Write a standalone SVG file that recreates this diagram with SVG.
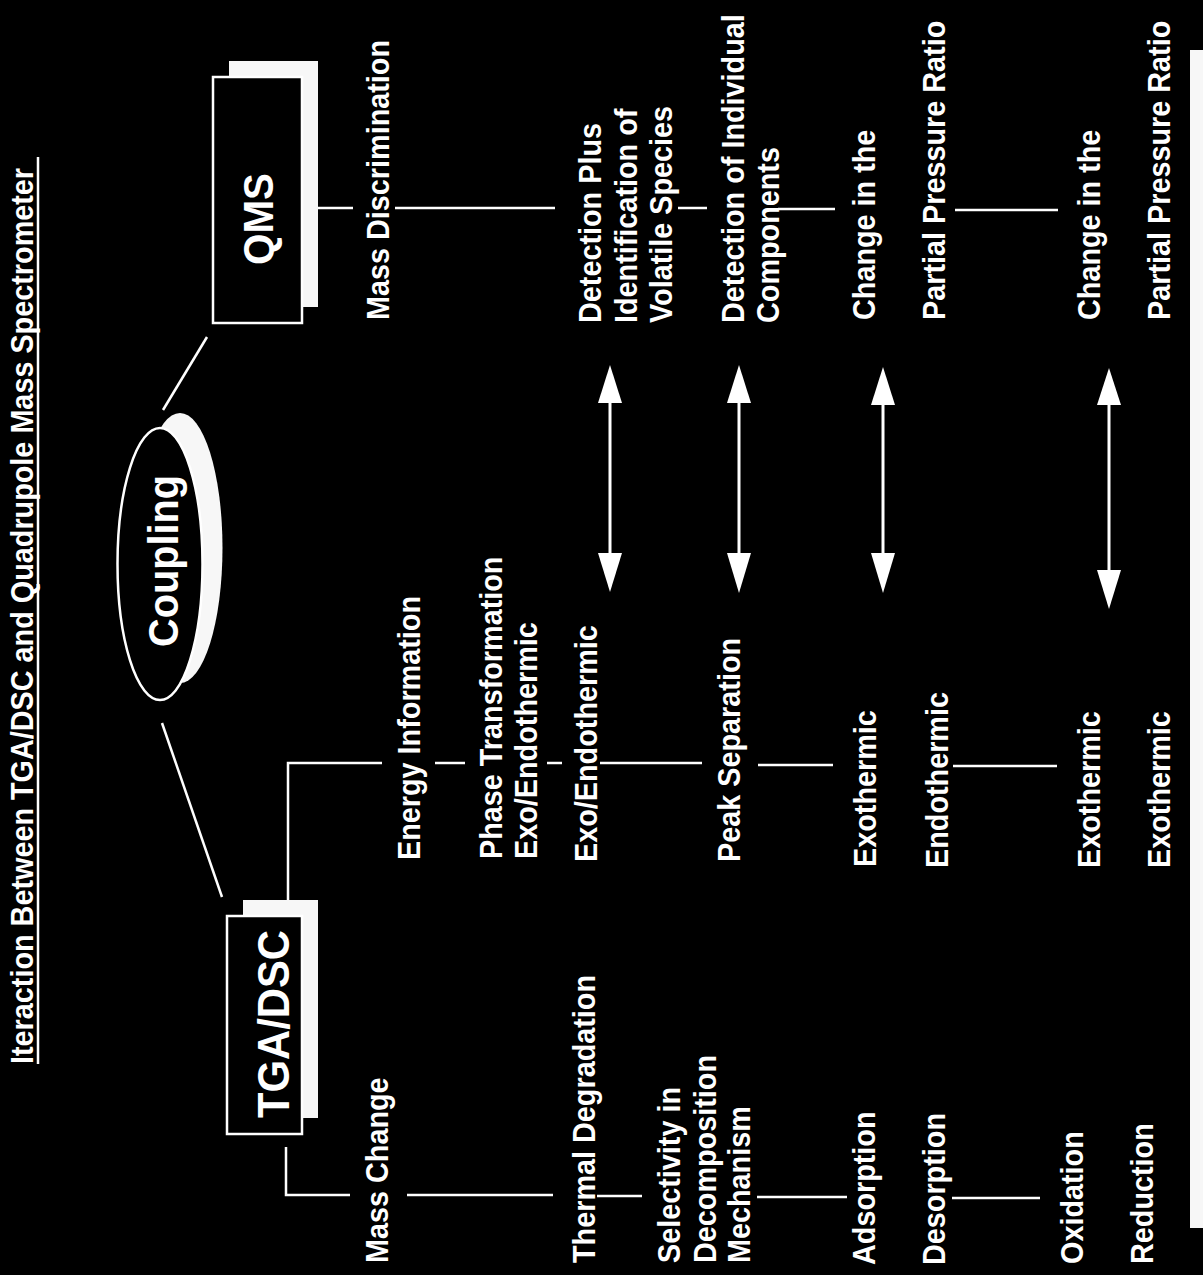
<svg xmlns="http://www.w3.org/2000/svg" width="1203" height="1275" viewBox="0 0 1203 1275">
<style>
.t{font-family:"Liberation Sans",Arial,sans-serif;font-weight:bold;font-size:32px;fill:#fff}
.b{font-family:"Liberation Sans",Arial,sans-serif;font-weight:bold;fill:#fff}
.c{stroke:#fff;stroke-width:2.5;fill:none}
.a{stroke:#fff;stroke-width:3;fill:none}
.h{fill:#fff}
</style>
<rect x="0" y="0" width="1203" height="1275" fill="#000"/>
<rect x="1190" y="50" width="13" height="1178" fill="#f7f7f7"/>

<g id="title">
<text class="t" transform="translate(33,1064) rotate(-90) scale(0.9,1)">Iteraction Between TGA/DSC and Quadrupole Mass Spectrometer</text>
<line x1="38" y1="157" x2="38" y2="1064" stroke="#fff" stroke-width="2.5"/>
</g>

<g id="coupling">
<ellipse cx="180" cy="548" rx="42.5" ry="135" fill="#f7f7f7"/>
<ellipse cx="160" cy="564" rx="42.5" ry="136" fill="#000" stroke="#fff" stroke-width="2.5"/>
<text class="b" font-size="42" text-anchor="middle" transform="translate(178,561) rotate(-90) scale(0.945,1)">Coupling</text>
</g>

<g id="qms">
<rect x="229" y="61" width="89" height="246" fill="#f7f7f7"/>
<rect x="213" y="77" width="89" height="246" fill="#000" stroke="#fff" stroke-width="2.5"/>
<text class="b" font-size="42" text-anchor="middle" transform="translate(273,219) rotate(-90) scale(0.96,1)">QMS</text>
</g>

<g id="tgadsc">
<rect x="243" y="900" width="75" height="218" fill="#f7f7f7"/>
<rect x="227" y="916" width="75" height="218" fill="#000" stroke="#fff" stroke-width="2.5"/>
<text class="b" font-size="44" text-anchor="middle" transform="translate(289,1024) rotate(-90) scale(0.95,1)">TGA/DSC</text>
</g>

<g id="tga-column">
<text class="t" transform="translate(388,1263) rotate(-90) scale(0.9,1)">Mass Change</text>
<text class="t" transform="translate(595,1263) rotate(-90) scale(0.9,1)">Thermal Degradation</text>
<text class="t" transform="translate(680,1263) rotate(-90) scale(0.9,1)">Selectivity in</text>
<text class="t" transform="translate(716,1263) rotate(-90) scale(0.9,1)">Decomposition</text>
<text class="t" transform="translate(750,1263) rotate(-90) scale(0.9,1)">Mechanism</text>
<text class="t" transform="translate(875,1265) rotate(-90) scale(0.9,1)">Adsorption</text>
<text class="t" transform="translate(945,1265) rotate(-90) scale(0.9,1)">Desorption</text>
<text class="t" transform="translate(1083,1264) rotate(-90) scale(0.9,1)">Oxidation</text>
<text class="t" transform="translate(1153,1264) rotate(-90) scale(0.9,1)">Reduction</text>
</g>

<g id="dsc-column">
<text class="t" transform="translate(420,860) rotate(-90) scale(0.9,1)">Energy Information</text>
<text class="t" transform="translate(502,859) rotate(-90) scale(0.9,1)">Phase Transformation</text>
<text class="t" transform="translate(537,859) rotate(-90) scale(0.9,1)">Exo/Endothermic</text>
<text class="t" transform="translate(597,862) rotate(-90) scale(0.9,1)">Exo/Endothermic</text>
<text class="t" transform="translate(740,862) rotate(-90) scale(0.9,1)">Peak Separation</text>
<text class="t" transform="translate(876,867) rotate(-90) scale(0.9,1)">Exothermic</text>
<text class="t" transform="translate(948,868) rotate(-90) scale(0.9,1)">Endothermic</text>
<text class="t" transform="translate(1100,868) rotate(-90) scale(0.9,1)">Exothermic</text>
<text class="t" transform="translate(1170,868) rotate(-90) scale(0.9,1)">Exothermic</text>
</g>

<g id="qms-column">
<text class="t" transform="translate(389,320) rotate(-90) scale(0.9,1)">Mass Discrimination</text>
<text class="t" transform="translate(601,323) rotate(-90) scale(0.9,1)">Detection Plus</text>
<text class="t" transform="translate(637,323) rotate(-90) scale(0.9,1)">Identification of</text>
<text class="t" transform="translate(672,323) rotate(-90) scale(0.9,1)">Volatile Species</text>
<text class="t" transform="translate(744,323) rotate(-90) scale(0.9,1)">Detection of Individual</text>
<text class="t" transform="translate(779,323) rotate(-90) scale(0.9,1)">Components</text>
<text class="t" transform="translate(875,320) rotate(-90) scale(0.9,1)">Change in the</text>
<text class="t" transform="translate(945,320) rotate(-90) scale(0.9,1)">Partial Pressure Ratio</text>
<text class="t" transform="translate(1100,320) rotate(-90) scale(0.9,1)">Change in the</text>
<text class="t" transform="translate(1170,320) rotate(-90) scale(0.9,1)">Partial Pressure Ratio</text>
</g>

<g id="connectors">
<line class="c" x1="163" y1="410" x2="207" y2="337"/>
<line class="c" x1="162" y1="723" x2="222" y2="897"/>
<line class="c" x1="318" y1="208" x2="353" y2="208"/>
<polyline class="c" points="286,1147 286,1195 350,1195"/>
<polyline class="c" points="288,900 288,763 382,763"/>
<line class="c" x1="395" y1="208" x2="555" y2="208"/>
<line class="c" x1="678" y1="208" x2="707" y2="208"/>
<line class="c" x1="778" y1="209" x2="835" y2="209"/>
<line class="c" x1="955" y1="210" x2="1058" y2="210"/>
<line class="c" x1="435" y1="763" x2="465" y2="763"/>
<line class="c" x1="547" y1="763" x2="562" y2="763"/>
<line class="c" x1="600" y1="763" x2="702" y2="763"/>
<line class="c" x1="758" y1="765" x2="833" y2="765"/>
<line class="c" x1="953" y1="766" x2="1057" y2="766"/>
<line class="c" x1="407" y1="1195" x2="553" y2="1195"/>
<line class="c" x1="597" y1="1196" x2="642" y2="1196"/>
<line class="c" x1="757" y1="1197" x2="847" y2="1197"/>
<line class="c" x1="952" y1="1198" x2="1040" y2="1198"/>
<line class="a" x1="610" y1="400" x2="610" y2="556"/>
<polygon class="h" points="610,365 598,403 622,403"/>
<polygon class="h" points="610,592 598,553 622,553"/>
<line class="a" x1="739" y1="400" x2="739" y2="556"/>
<polygon class="h" points="739,365 727,403 751,403"/>
<polygon class="h" points="739,593 727,553 751,553"/>
<line class="a" x1="883" y1="402" x2="883" y2="556"/>
<polygon class="h" points="883,367 871,405 895,405"/>
<polygon class="h" points="883,593 871,553 895,553"/>
<line class="a" x1="1109" y1="402" x2="1109" y2="573"/>
<polygon class="h" points="1109,368 1097,405 1121,405"/>
<polygon class="h" points="1109,609 1097,570 1121,570"/>
</g>
</svg>
